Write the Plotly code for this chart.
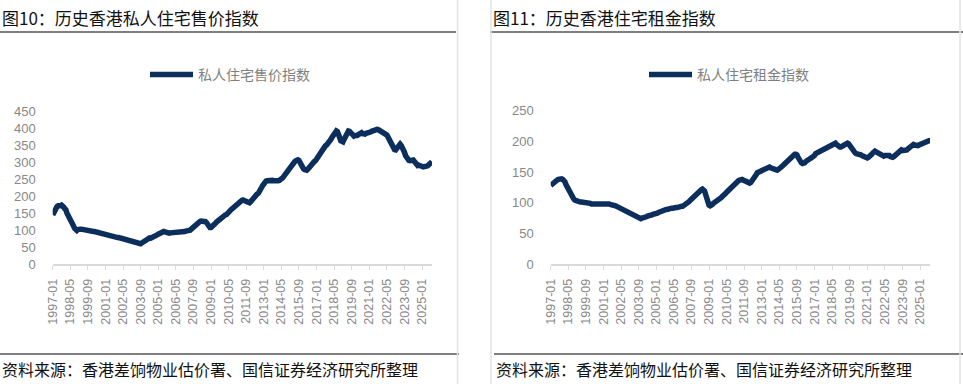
import plotly.graph_objects as go

W, H = 963, 384

# ---- data (monthly, 1997-01 .. 2025-10) ----
start_year, n_months = 1997, 346
months = [f"{start_year + i // 12}-{i % 12 + 1:02d}" for i in range(n_months)]

tick_labels = ["1997-01", "1998-05", "1999-09", "2001-01", "2002-05", "2003-09", "2005-01",
               "2006-05", "2007-09", "2009-01", "2010-05", "2011-09", "2013-01", "2014-05",
               "2015-09", "2017-01", "2018-05", "2019-09", "2021-01", "2022-05", "2023-09",
               "2025-01"]

price_index = [
    145, 153, 160, 166, 170, 172, 170, 172, 174, 173, 168, 163,   # 1997
    160, 150, 142, 140, 135, 128, 120, 112, 105, 100, 99, 102,    # 1998
    104, 103, 103, 102, 103, 104, 103, 102, 100, 98, 98, 97,      # 1999
    97, 96, 96, 95, 94, 92, 91, 92, 90, 88, 88, 86,               # 2000
    85, 86, 86, 85, 84, 83, 82, 82, 81, 79, 78, 78,               # 2001
    78, 77, 77, 77, 76, 75, 74, 73, 72, 71, 70, 69,               # 2002
    68, 67, 66, 64, 63, 62, 60, 59, 60, 62, 64, 66,               # 2003
    69, 73, 76, 78, 77, 76, 77, 78, 80, 82, 84, 86,               # 2004
    88, 90, 93, 96, 97, 96, 95, 93, 92, 91, 91, 92,               # 2005
    92, 93, 94, 93, 93, 92, 92, 92, 93, 94, 94, 95,               # 2006
    96, 97, 97, 98, 99, 100, 103, 106, 110, 114, 118, 120,        # 2007
    121, 124, 126, 127, 127, 128, 127, 125, 122, 115, 110, 108,   # 2008
    108, 110, 112, 116, 120, 124, 127, 131, 135, 138, 140, 142,   # 2009
    143, 145, 146, 148, 152, 156, 160, 163, 166, 170, 174, 176,   # 2010
    178, 182, 185, 187, 188, 189, 188, 186, 184, 182, 180, 181,   # 2011
    184, 188, 194, 200, 204, 206, 207, 209, 213, 220, 226, 232,   # 2012
    238, 242, 245, 246, 247, 248, 249, 248, 247, 246, 245, 245,   # 2013
    245, 246, 247, 248, 250, 254, 258, 263, 268, 273, 278, 283,   # 2014
    287, 292, 297, 300, 302, 305, 307, 308, 306, 298, 290, 285,   # 2015
    282, 279, 276, 277, 280, 285, 290, 295, 299, 302, 303, 305,   # 2016
    310, 318, 325, 330, 334, 338, 342, 346, 349, 351, 354, 358,   # 2017
    362, 368, 374, 379, 384, 389, 393, 391, 385, 374, 364, 360,   # 2018
    361, 368, 376, 385, 392, 393, 392, 388, 385, 382, 378, 380,   # 2019
    378, 380, 382, 384, 386, 388, 385, 383, 384, 386, 386, 387,   # 2020
    388, 390, 392, 394, 396, 397, 398, 398, 397, 395, 393, 392,   # 2021
    390, 387, 385, 384, 381, 375, 368, 360, 352, 345, 340, 338,   # 2022
    337, 342, 350, 355, 354, 350, 345, 338, 330, 320, 312, 308,   # 2023
    306, 305, 306, 308, 307, 303, 297, 293, 291, 292, 292, 290,   # 2024
    288, 287, 289, 290, 289, 290, 292, 294, 298, 302,             # 2025
]

rent_index = [
    128, 130, 132, 133, 134, 136, 137, 138, 139, 140, 139, 138,   # 1997
    137, 134, 129, 125, 122, 119, 117, 114, 110, 106, 104, 103,   # 1998
    102, 102, 101, 101, 101, 101, 100, 100, 100, 100, 99, 99,     # 1999
    99, 98, 98, 99, 99, 99, 100, 100, 99, 99, 98, 98,             # 2000
    98, 99, 99, 98, 98, 98, 97, 97, 97, 97, 96, 95,               # 2001
    94, 93, 92, 91, 90, 89, 88, 87, 86, 85, 84, 83,               # 2002
    82, 81, 80, 79, 78, 77, 76, 75, 74, 74, 74, 75,               # 2003
    75, 76, 77, 77, 78, 78, 79, 80, 80, 81, 81, 82,               # 2004
    82, 83, 84, 85, 86, 87, 87, 88, 88, 89, 89, 90,               # 2005
    90, 91, 91, 91, 92, 92, 92, 92, 93, 93, 93, 94,               # 2006
    94, 95, 96, 97, 98, 100, 102, 104, 106, 107, 109, 111,        # 2007
    113, 115, 117, 119, 120, 121, 122, 121, 119, 113, 106, 100,   # 2008
    96, 95, 95, 97, 99, 100, 101, 103, 104, 106, 107, 108,        # 2009
    110, 111, 113, 115, 117, 119, 120, 122, 124, 126, 128, 129,   # 2010
    131, 133, 135, 136, 137, 138, 138, 137, 136, 135, 134, 133,   # 2011
    133, 132, 133, 135, 137, 140, 143, 146, 149, 150, 151, 152,   # 2012
    153, 154, 155, 156, 157, 157, 157, 158, 157, 156, 155, 155,   # 2013
    154, 153, 153, 154, 155, 157, 158, 160, 162, 164, 165, 167,   # 2014
    169, 171, 173, 175, 177, 178, 179, 179, 178, 174, 170, 167,   # 2015
    165, 164, 164, 165, 167, 169, 170, 171, 172, 173, 174, 175,   # 2016
    177, 180, 181, 182, 183, 184, 185, 186, 187, 188, 189, 189,   # 2017
    190, 191, 192, 193, 194, 195, 196, 197, 195, 193, 192, 191,   # 2018
    191, 192, 194, 195, 197, 198, 197, 196, 193, 190, 187, 184,   # 2019
    182, 181, 180, 180, 179, 179, 178, 177, 176, 175, 174, 173,   # 2020
    173, 174, 175, 177, 179, 181, 183, 184, 183, 182, 180, 179,   # 2021
    178, 177, 176, 176, 177, 177, 178, 178, 177, 175, 174, 174,   # 2022
    175, 177, 179, 181, 183, 185, 186, 186, 185, 185, 184, 185,   # 2023
    186, 188, 190, 192, 194, 195, 195, 194, 193, 192, 193, 194,   # 2024
    195, 196, 197, 198, 198, 199, 200, 201, 201, 201,             # 2025
]

price_name = "私人住宅售价指数"
rent_name = "私人住宅租金指数"
title_left = "图10：历史香港私人住宅售价指数"
title_right = "图11：历史香港住宅租金指数"
source_text = "资料来源：香港差饷物业估价署、国信证券经济研究所整理"

price_ticks = [0, 50, 100, 150, 200, 250, 300, 350, 400, 450]
rent_ticks = [0, 50, 100, 150, 200, 250]

# ---- style ----
LINE_COLOR = "#0c2e5c"
GRAY = "#888888"
FONT = "Liberation Sans, Noto Sans CJK SC, sans-serif"
CJK = "Noto Sans CJK SC, sans-serif"


def px(x):
    return x / W


def py(y):
    return 1 - y / H


fig = go.Figure()
fig.add_trace(go.Scatter(x=months, y=price_index, mode="lines", name=price_name,
                         line=dict(color=LINE_COLOR, width=5.5), xaxis="x", yaxis="y",
                         legend="legend"))
fig.add_trace(go.Scatter(x=months, y=rent_index, mode="lines", name=rent_name,
                         line=dict(color=LINE_COLOR, width=5.5), xaxis="x2", yaxis="y2",
                         legend="legend2"))

xcommon = dict(type="category", categoryorder="array", categoryarray=months,
               range=[0, n_months - 1], tickmode="array", tickvals=tick_labels,
               ticktext=tick_labels, tickangle=-90, ticks="outside", ticklen=4,
               tickcolor="#d9d9d9", showline=True, linecolor="#d9d9d9", linewidth=1.5,
               showgrid=False, zeroline=False, tickfont=dict(family=FONT, size=12.5, color=GRAY),
               ticklabelstandoff=4, automargin=False)
ycommon = dict(showgrid=False, zeroline=False, showline=False, ticks="",
               tickfont=dict(family=FONT, size=13, color=GRAY), ticklabelstandoff=16,
               automargin=False)

legend_common = dict(xanchor="left", yanchor="middle", itemwidth=43,
                     font=dict(family=CJK, size=14, color="#7f7f7f"),
                     bgcolor="rgba(0,0,0,0)", borderwidth=0)

fig.update_layout(
    width=W, height=H, margin=dict(l=0, r=0, t=0, b=0, autoexpand=False),
    paper_bgcolor="white", plot_bgcolor="white",
    xaxis=dict(domain=[px(52.7), px(432)], anchor="y", **xcommon),
    yaxis=dict(domain=[py(264), py(111.7)], anchor="x", range=[0, 450],
               tickvals=price_ticks, **ycommon),
    xaxis2=dict(domain=[px(550.7), px(930)], anchor="y2", **xcommon),
    yaxis2=dict(domain=[py(264), py(110.7)], anchor="x2", range=[0, 250],
                tickvals=rent_ticks, **ycommon),
    legend=dict(x=px(145), y=py(75), **legend_common),
    legend2=dict(x=px(644), y=py(75), **legend_common),
    showlegend=True,
)

shapes = [
    # title rules
    dict(type="line", xref="paper", yref="paper", x0=0, x1=px(456), y0=py(32), y1=py(32),
         line=dict(color="#555555", width=1.5)),
    dict(type="line", xref="paper", yref="paper", x0=px(490), x1=1, y0=py(32), y1=py(32),
         line=dict(color="#555555", width=1.5)),
    # source rules
    dict(type="line", xref="paper", yref="paper", x0=0, x1=px(459), y0=py(354), y1=py(354),
         line=dict(color="#555555", width=1.5)),
    dict(type="line", xref="paper", yref="paper", x0=px(494), x1=1, y0=py(354), y1=py(354),
         line=dict(color="#555555", width=1.5)),
    # light panel dividers
    dict(type="line", xref="paper", yref="paper", x0=px(457.5), x1=px(457.5), y0=0, y1=1,
         line=dict(color="#e3e3e3", width=1.5)),
    dict(type="line", xref="paper", yref="paper", x0=px(491), x1=px(491), y0=0, y1=1,
         line=dict(color="#e3e3e3", width=1.5)),
    dict(type="line", xref="paper", yref="paper", x0=px(960), x1=px(960), y0=0, y1=1,
         line=dict(color="#e3e3e3", width=1.5)),
]
fig.update_layout(shapes=shapes)

annotations = [
    dict(text=title_left, x=0, y=py(17), xanchor="left", yanchor="middle"),
    dict(text=title_right, x=px(491), y=py(17), xanchor="left", yanchor="middle"),
]
for a in annotations:
    a.update(xref="paper", yref="paper", showarrow=False,
             font=dict(family=CJK, size=17, color="#111111"))
src = [
    dict(text=source_text, x=0, y=py(369), xanchor="left", yanchor="middle"),
    dict(text=source_text, x=px(494), y=py(369), xanchor="left", yanchor="middle"),
]
for a in src:
    a.update(xref="paper", yref="paper", showarrow=False,
             font=dict(family=CJK, size=16, color="#111111"))
fig.update_layout(annotations=annotations + src)

fig.write_html("out.html", config={"displayModeBar": False},
               post_script="document.body.style.margin='0';document.body.style.overflow='hidden';")
